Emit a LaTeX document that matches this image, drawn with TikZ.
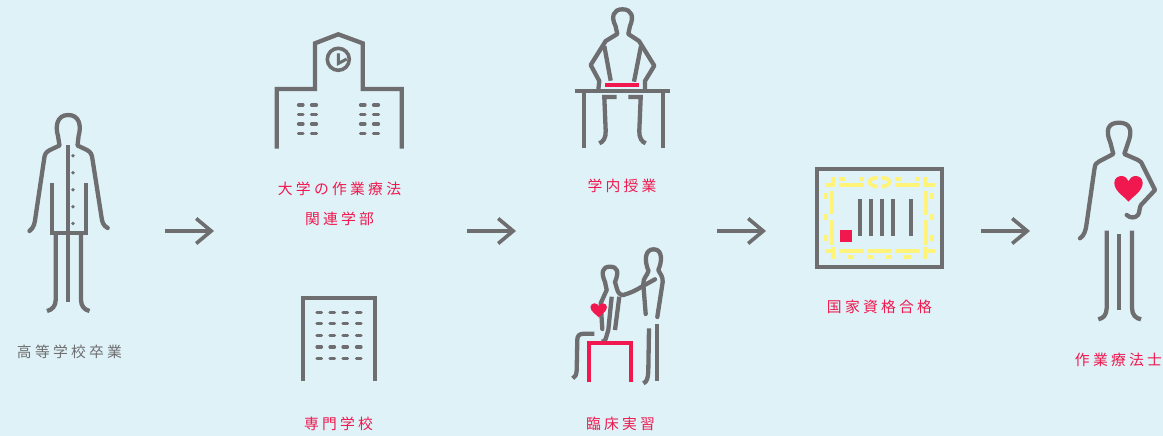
\documentclass[tikz,border=0pt]{standalone}
\usepackage{fontspec}
\usetikzlibrary{arrows.meta}
\newfontfamily\jpfont[LetterSpace=22]{Noto Sans CJK JP}
\definecolor{bgc}{HTML}{DFF2F8}
\definecolor{gr}{HTML}{6E6E70}
\definecolor{pk}{HTML}{F0184E}
\definecolor{yl}{HTML}{FFF37A}
\tikzset{
 ln/.style={draw=gr,line width=4.3pt,line join=round,line cap=round},
 bld/.style={draw=gr,line width=4.3pt,line join=miter,line cap=butt},
 win/.style={draw=gr,line width=3.2pt,line cap=round},
 red/.style={draw=pk,line width=4pt,line join=miter,line cap=butt},
 yd/.style={draw=yl,line width=3.8pt,line cap=butt},
 lab/.style={inner sep=0pt,font=\jpfont\fontsize{14.8}{16}\selectfont},
 labg/.style={lab,text=gr},
 labp/.style={lab,text=pk},
 arr/.style={draw=gr,line width=3.6pt,-{Straight Barb[length=15pt,width=25pt,line width=3.6pt]}},
 heartshape/.style={fill=pk}
}
\newcommand{\heartat}[4]{\begin{scope}[shift={(#1,#2)},x=#3pt,y=-#4pt]
 \fill[heartshape] (0,1) .. controls (-.12,.82) and (-.5,.6) .. (-.5,.27)
   .. controls (-.5,.08) and (-.36,0) .. (-.25,0) .. controls (-.12,0) and (-.04,.1) .. (0,.2)
   .. controls (.04,.1) and (.12,0) .. (.25,0) .. controls (.36,0) and (.5,.08) .. (.5,.27)
   .. controls (.5,.6) and (.12,.82) .. (0,1) -- cycle;
 \end{scope}}
\begin{document}
\begin{tikzpicture}[x=1pt,y=-1pt]
\path[fill=bgc] (0,0) rectangle (1163,436);
\useasboundingbox (0,0) rectangle (1163,436);
% labels
\node[labg] (l1) at (69.5,352) {高等学校卒業};
\node[labp] (l2) at (339.5,189) {大学の作業療法};
\node[labp] (l3) at (339.5,219) {関連学部};
\node[labp] (l4) at (338.5,424) {専門学校};
\node[labp] (l5) at (622,186) {学内授業};
\node[labp] (l6) at (620.5,424) {臨床実習};
\node[labp] (l7) at (879.5,307) {国家資格合格};
\node[labp] (l8) at (1118.5,360) {作業療法士};
% arrows
\coordinate (a1s) at (165,231); \coordinate (a1e) at (214,231);
\coordinate (a2s) at (467,231); \coordinate (a2e) at (516,231);
\coordinate (a3s) at (717,231); \coordinate (a3e) at (766,231);
\coordinate (a4s) at (981,231); \coordinate (a4e) at (1030,231);
\draw[arr] (a1s) -- (a1e);
\draw[arr] (a2s) -- (a2e);
\draw[arr] (a3s) -- (a3e);
\draw[arr] (a4s) -- (a4e);
% student
\draw[ln] (29.5,231) .. controls (34,228) and (35,222) .. (35.5,217) -- (44,160)
  .. controls (44.5,154) and (46,152) .. (50,150) -- (59.5,145.5) -- (58,136)
  .. controls (55,126) and (57,115) .. (68.3,115) .. controls (79.5,115) and (81.5,126) .. (78.6,136)
  -- (77.5,145.5) -- (87,150) .. controls (90.5,152) and (92,154) .. (92.6,160) -- (101.5,217)
  .. controls (102,222) and (103.5,226) .. (107.7,228);
\draw[bld] (51.8,182.7) -- (51.8,233) -- (86,233) -- (86,182.7);
\draw[bld] (68.3,145) -- (68.3,302);
\draw[ln,line cap=butt] (55.7,233) -- (55.7,300) .. controls (55.7,306) and (52,310) .. (47,311);
\draw[ln,line cap=butt] (81,233) -- (81,300) .. controls (81,306) and (84.5,310) .. (89.5,311);
\foreach \yy in {155.7,172.7,189.7,206.7,223.4}{\fill[gr] (73,\yy) circle (1.9pt);}
% university
\draw[bld] (276.7,148.5) -- (276.7,89) -- (315,89) -- (315,43.3) -- (338.3,34.3) -- (362.7,43.3) -- (362.7,89) -- (401.7,89) -- (401.7,148.5);
\draw[gr,line width=3.6pt] (338.3,59.3) circle (11pt);
\draw[gr,line width=3pt,line join=miter] (338.3,53.3) -- (338.3,63.5) -- (346.7,59);
\foreach \yy in {105,114.7,124,133.7}{\foreach \xa/\xb in {298.5/303,311.5/316.5,360.5/365,373.5/378.5}{\draw[win] (\xa,\yy) -- (\xb,\yy);}}
% school
\draw[bld] (302.7,380.7) -- (302.7,298.3) -- (375,298.3) -- (375,380.7);
\foreach \yy in {312.3,323.7,335.3,347,358.3}{\foreach \xa in {317,330,343,356.5}{\draw[win] (\xa,\yy) -- ++(4.5,0);}}
% class
\draw[ln] (598.3,90) -- (599.3,81) -- (590.7,65) -- (605.7,41) -- (617.3,34) -- (615.5,26)
  .. controls (611,17) and (613,9.3) .. (622.5,9.3) .. controls (632,9.3) and (634,17) .. (630,26)
  -- (628.3,34) -- (639,41) -- (654.3,65.7) -- (645,81) -- (645,90);
\draw[ln,line cap=butt] (604.3,46) -- (610.7,80.7);
\draw[ln,line cap=butt] (641,46) -- (634,81.7);
\draw[red] (605,85.3) -- (639.3,85.3);
\draw[bld] (574.7,90.7) -- (670,90.7);
\draw[bld] (584,90.7) -- (584,147.7);
\draw[bld] (663.3,90.7) -- (663.3,147.7);
\draw[bld] (616.7,97) -- (604.3,97) -- (605.7,131) .. controls (606,138) and (603,142) .. (599.3,143.3);
\draw[bld] (628.3,97) -- (640.7,97) -- (639.3,131) .. controls (639,138) and (642,142) .. (645.7,143.3);
% clinic
\draw[ln] (657.3,317) -- (662.7,282) .. controls (663,276) and (660,274) .. (658.3,270)
  .. controls (662,262) and (663,249.3) .. (653.7,249.3) .. controls (645,249.3) and (644,260) .. (648.5,271)
  .. controls (647,276) and (643,278) .. (643.3,284) -- (645.7,314);
\draw[ln] (655,279.3) -- (641.7,286.7) .. controls (635,291) and (630,293) .. (623.3,295)
  .. controls (620,295) and (618,293) .. (617,289) -- (615,282)
  .. controls (619,272) and (618,266.7) .. (609.8,266.7) .. controls (602,266.7) and (601,273) .. (605,282)
  -- (606.7,290) -- (600.7,303.3) -- (602.3,329);
\draw[ln,line cap=butt] (619.3,296.7) -- (615,330);
\draw[ln,line cap=butt] (611.7,296.7) -- (608.3,330) -- (605.5,339.5) .. controls (605,341) and (603,341.7) .. (601.7,341.7);
\draw[ln,line cap=butt] (594.3,333.7) -- (584,333.7) .. controls (579,333.7) and (577.3,336) .. (577.3,340)
  -- (576.7,370) .. controls (576.5,375) and (575,377.5) .. (572.7,378.3);
\draw[red] (589,382.3) -- (589,342.7) -- (630.7,342.7) -- (630.7,382.3);
\heartat{598.7}{303.3}{16.5}{14}
\draw[ln,line cap=butt] (649,328.3) -- (648.3,371) .. controls (648,378) and (647,382) .. (643.3,383.3);
\draw[bld] (657,324) -- (657,380.7);
% certificate
\draw[gr,line width=4.3pt] (816.7,169) rectangle (942.3,266.7);
\foreach \xx in {860,871,882,893,911}{\draw[gr,line width=3.8pt] (\xx,199) -- (\xx,236.3);}
\fill[pk] (839.7,230) rectangle (852.3,242.3);
\draw[yd] (824.5,185) -- (835,185) (838.5,185) -- (863.5,185) (895,185) -- (920,185) (923.5,185) -- (934.5,185);
\draw[yd] (838.5,178.7) -- (844.5,178.7) (858.5,178.7) -- (863.5,178.7) (895,178.7) -- (901,178.7) (915,178.7) -- (920,178.7);
\draw[yd] (832.7,176.7) -- (832.7,186.5) (925,176.7) -- (925,186.5);
\draw[yd] (832.3,190.7) -- (832.3,214.3) (832.3,220) -- (832.3,245) (926.3,190.7) -- (926.3,215) (926.3,220) -- (926.3,245);
\draw[yd] (826.3,193.3) -- (826.3,199.3) (826.3,214.3) -- (826.3,220) (826.3,235) -- (826.3,241)
  (931.7,193.3) -- (931.7,199.3) (931.7,214.3) -- (931.7,220) (931.7,235) -- (931.7,241);
\draw[yd] (824.5,250.7) -- (835,250.7) (838.5,250.7) -- (863.5,250.7) (866.7,250.7) -- (892.3,250.7) (895,250.7) -- (920,250.7) (923.5,250.7) -- (934.5,250.7);
\draw[yd] (832.7,247.3) -- (832.7,259.3) (925,247.3) -- (925,259.3);
\draw[yd] (847.7,257) -- (854,257) (866.7,257) -- (872.7,257) (885.7,257) -- (891.7,257) (904.3,257) -- (910.5,257);
\draw[yd] (877,177.7) .. controls (872,178) and (869.5,180) .. (869.5,182) .. controls (869.5,184) and (872,186) .. (877,186.5);
\draw[yd] (882,177.7) .. controls (887,178) and (889.5,180) .. (889.5,182) .. controls (889.5,184) and (887,186) .. (882,186.5);
% worker
\draw[ln] (1080,238.3) .. controls (1084,236) and (1086,230) .. (1086.7,223) -- (1094.3,170)
  .. controls (1095,164) and (1096,163) .. (1099,161.5) -- (1113.3,154) -- (1110.5,143)
  .. controls (1105,130) and (1108,122.7) .. (1119,122.7) .. controls (1130,122.7) and (1133,130) .. (1128,143)
  -- (1124.3,154) -- (1138,160) .. controls (1141,161.5) and (1142,163) .. (1143,166) -- (1155,190)
  -- (1141,205) .. controls (1139,208) and (1140,212) .. (1138,215) .. controls (1135,218.5) and (1130,218) .. (1126.7,215);
\draw[ln,line cap=butt] (1106.7,230.7) -- (1106.7,308) .. controls (1106.7,315) and (1103,318.5) .. (1098.3,319.3);
\draw[ln,line cap=butt] (1132,230.7) -- (1132,308) .. controls (1132,315) and (1136,318.5) .. (1141,319.3);
\draw[bld] (1119.3,234.3) -- (1119.3,310);
\heartat{1128.5}{176}{28.4}{25.7}
\end{tikzpicture}
\end{document}
